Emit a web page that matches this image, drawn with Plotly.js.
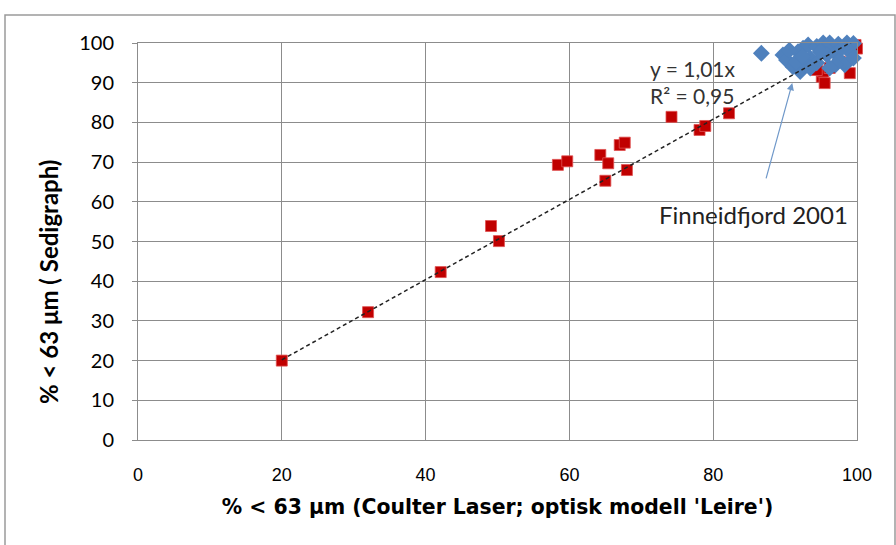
<!DOCTYPE html>
<html><head><meta charset="utf-8">
<script src="https://cdn.plot.ly/plotly-3.0.1.min.js"></script>
<style>html,body{margin:0;padding:0;background:#fff}#chart{width:896px;height:545px}</style>
</head><body><div id="chart"></div>
<script>
// Red squares (main data set)
const redX = [20, 32, 42.1, 49.1, 50.2, 58.4, 59.7, 64.3, 65.4, 65.0, 67.0, 67.7, 68.0, 74.2, 78.1, 78.9, 82.2,
              95.1, 95.5, 95.3, 94.4, 96.2, 99.0, 99.8, 100, 97.6];
const redY = [20, 32.2, 42.3, 53.9, 50.1, 69.3, 70.2, 71.8, 69.7, 65.3, 74.3, 74.9, 68.0, 81.4, 78.1, 79.1, 82.3,
              91.5, 89.9, 92.8, 93.2, 93.7, 92.4, 99.5, 98.6, 95.3];
// Blue diamonds (Finneidfjord 2001)
const blueX = [86.7, 89.7, 90.2, 91.1, 92.1, 91.8, 92.5, 93.2, 94.4, 95.3, 96.2, 97.4, 98.6, 99.5, 93.5, 94.4,
               95.8, 97.0, 97.6, 98.3, 97.0, 99.0, 97.9, 94.9, 92.9, 90.6, 96.2, 93.5, 99.5, 91.5, 92.4];
const blueY = [97.4, 97.0, 95.7, 94.0, 92.8, 97.8, 98.7, 99.5, 99.1, 100, 100, 99.7, 100, 99.9, 96.2, 95.0,
               97.0, 97.4, 95.7, 94.5, 94.5, 97.8, 98.7, 97.8, 94.5, 98.2, 93.7, 93.7, 96.2, 95.2, 96.6];
const slope = 1.01;
const r2 = 0.95;
const xTicks = [0, 20, 40, 60, 80, 100];
const yTicks = [0, 10, 20, 30, 40, 50, 60, 70, 80, 90, 100];
const xTitle = "% < 63 μm (Coulter Laser; optisk modell 'Leire')";
const yTitle = '% < 63 μm ( Sedigraph)';

const xMin = Math.min(...redX), xMax = 100;
const trendX = [xMin, xMax];
const trendY = trendX.map(v => slope * v);

const traces = [
  {x: redX, y: redY, type: 'scatter', mode: 'markers',
   marker: {symbol: 'square', size: 11, color: '#C00000', line: {width: 0.8, color: '#e05050'}},
   hoverinfo: 'skip', cliponaxis: false},
  {x: blueX, y: blueY, type: 'scatter', mode: 'markers',
   marker: {symbol: 'diamond', size: 13, color: '#4F81BD', line: {width: 0}},
   hoverinfo: 'skip', cliponaxis: false},
  {x: trendX, y: trendY, type: 'scatter', mode: 'lines',
   line: {color: '#222', width: 1.5, dash: '4px,3px'}, hoverinfo: 'skip'}
];

const W = 719, H = 397; // plot area size
const layout = {
  width: 896, height: 545,
  margin: {l: 138, r: 39, t: 43, b: 105},
  paper_bgcolor: '#fff', plot_bgcolor: '#fff',
  showlegend: false,
  xaxis: {
    range: [0, 100], tickvals: xTicks, ticktext: xTicks.map(String),
    showgrid: true, gridcolor: '#8c8c8c', gridwidth: 1,
    showline: true, linecolor: '#8c8c8c', linewidth: 1, mirror: true,
    zeroline: false, ticks: '', ticklabelstandoff: 18,
    tickfont: {family: 'Liberation Sans Narrow, Arial Narrow, Liberation Sans, sans-serif', size: 18, color: '#000'},
    title: {text: xTitle, standoff: 16,
            font: {family: 'DejaVu Sans, sans-serif', size: 20.4, color: '#000', weight: 'bold'}}
  },
  yaxis: {
    range: [0, 100], tickvals: yTicks, ticktext: yTicks.map(String),
    showgrid: true, gridcolor: '#8c8c8c', gridwidth: 1,
    showline: true, linecolor: '#8c8c8c', linewidth: 1, mirror: true,
    zeroline: false, ticks: 'outside', ticklen: 5, tickcolor: '#8c8c8c', ticklabelstandoff: 14,
    tickfont: {family: 'Lato, sans-serif', size: 20, color: '#000'}
  },
  shapes: [{
    type: 'rect', xref: 'paper', yref: 'paper',
    x0: (5 - 138) / W, x1: (895 - 138) / W,
    y0: (440 - 560) / H, y1: (440 - 15) / H,
    line: {color: '#9a9a9a', width: 1.5}, fillcolor: 'rgba(0,0,0,0)', layer: 'below'
  }],
  annotations: [
    {x: (48 - 138) / W, y: (440 - 282) / H, xref: 'paper', yref: 'paper', xanchor: 'center', yanchor: 'middle',
     showarrow: false, textangle: -90, text: '<b>' + yTitle + '</b>',
     font: {family: 'Lato, sans-serif', size: 24, color: '#000'}},
    {x: 70.9, y: 93.7, xref: 'x', yref: 'y', xanchor: 'left', yanchor: 'middle', showarrow: false,
     text: 'y = ' + slope.toFixed(2).replace('.', ',') + 'x',
     font: {family: 'Lato, sans-serif', size: 21, color: '#333'}},
    {x: 70.9, y: 86.9, xref: 'x', yref: 'y', xanchor: 'left', yanchor: 'middle', showarrow: false,
     text: 'R² = ' + r2.toFixed(2).replace('.', ','),
     font: {family: 'Lato, sans-serif', size: 21, color: '#333'}},
    {x: 72.2, y: 56.9, xref: 'x', yref: 'y', xanchor: 'left', yanchor: 'middle', showarrow: false,
     text: 'Finneidfjord 2001',
     font: {family: 'Lato, sans-serif', size: 24, color: '#222'}},
    {x: 91.0, y: 89.9, ax: 87.3, ay: 65.5, xref: 'x', yref: 'y', axref: 'x', ayref: 'y',
     text: '', showarrow: true, arrowhead: 2, arrowsize: 1.2, arrowwidth: 1.2, arrowcolor: '#6f98c9'}
  ]
};
Plotly.newPlot('chart', traces, layout, {staticPlot: true, displayModeBar: false});
</script></body></html>
